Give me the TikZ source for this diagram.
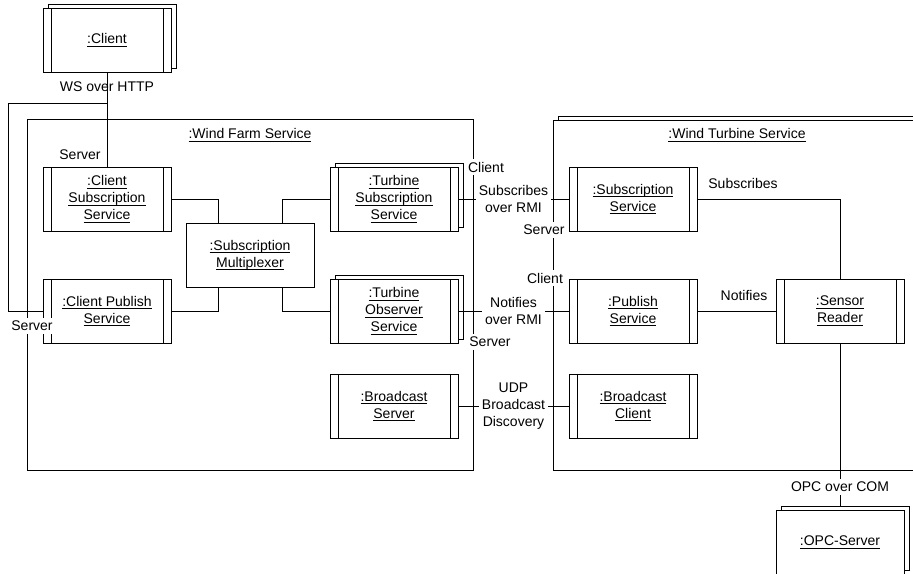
\documentclass[tikz,border=0pt]{standalone}
\usepackage{fontspec}
\setmainfont{Liberation Sans}
\usetikzlibrary{shadows}

% underlined object name with a fixed underline depth
\newcommand\ulx[1]{\setbox0=\hbox{#1}\rlap{\rule[-3pt]{\wd0}{0.8pt}}\box0}

\tikzset{
  txt/.style={font=\fontsize{14}{17}\selectfont},
  lbl/.style={txt, align=center, inner sep=1.5pt},
  wlbl/.style={lbl, fill=white, inner sep=3pt},
  frame/.style={draw, line width=1pt},
  obj/.style={frame, fill=white, txt, align=center, inner sep=0pt,
    minimum width=128pt, minimum height=64pt},
  active/.style={path picture={
    \draw[line width=1pt]
      ([xshift=8pt]path picture bounding box.north west) --
      ([xshift=8pt]path picture bounding box.south west)
      ([xshift=-8pt]path picture bounding box.north east) --
      ([xshift=-8pt]path picture bounding box.south east);}},
  stacked/.style={general shadow={shadow xshift=5pt, shadow yshift=4pt,
    fill=white, draw=black, line width=1pt}},
  conn/.style={line width=1pt},
}

\begin{document}
\begin{tikzpicture}[x=1pt,y=-1pt]
\useasboundingbox (0,0) rectangle (913,573);
\clip (0,0) rectangle (913,573);

% containers
\node[frame, minimum width=446pt, minimum height=351pt] (farm) at (250,294.5) {};
\node[lbl] (farmname) at (250,135) {\ulx{:Wind Farm Service}};
\node[frame, fill=white, stacked, minimum width=402pt, minimum height=350pt] (turbine) at (754,295) {};
\node[lbl] (turbname) at (737,135) {\ulx{:Wind Turbine Service}};

% objects
\node[obj, active, stacked] (client) at (107,40) {\ulx{:Client}};
\node[obj, active] (csub) at (107,199) {\ulx{:Client}\\\ulx{Subscription}\\\ulx{Service}};
\node[obj, active] (cpub) at (107,311) {\ulx{:Client Publish}\\\ulx{Service}};
\node[obj] (mux) at (250,255) {\ulx{:Subscription}\\\ulx{Multiplexer}};
\node[obj, active, stacked] (tsub) at (394,199) {\ulx{:Turbine}\\\ulx{Subscription}\\\ulx{Service}};
\node[obj, active, stacked] (tobs) at (394,311) {\ulx{:Turbine}\\\ulx{Observer}\\\ulx{Service}};
\node[obj, active] (bserv) at (394,406) {\ulx{:Broadcast}\\\ulx{Server}};
\node[obj, active] (ssub) at (633,199) {\ulx{:Subscription}\\\ulx{Service}};
\node[obj, active] (spub) at (633,311) {\ulx{:Publish}\\\ulx{Service}};
\node[obj, active] (bcli) at (633,406) {\ulx{:Broadcast}\\\ulx{Client}};
\node[obj, active] (sensor) at (840,311) {\ulx{:Sensor}\\\ulx{Reader}};
\node[obj, stacked] (opc) at (840,542) {\ulx{:OPC-Server}};

% connectors
\draw[conn] (client.south) -- (csub.north);
\coordinate (tap) at (107,103);
\coordinate (lcorner) at (8,103);
\draw[conn] (tap) -- (lcorner) |- (cpub.west);
\node[lbl] (ws) at (107,87) {WS over HTTP};

\draw[conn] (csub.east) -| ([xshift=-32pt]mux.north);
\draw[conn] ([xshift=32pt]mux.north) |- (tsub.west);
\draw[conn] ([xshift=-32pt]mux.south) |- (cpub.east);
\draw[conn] ([xshift=32pt]mux.south) |- (tobs.west);

\draw[conn] (tsub.east) -- (ssub.west) node[wlbl, midway] (rmis) {Subscribes\\over RMI};
\draw[conn] (tobs.east) -- (spub.west) node[wlbl, midway] (rmin) {Notifies\\over RMI};
\draw[conn] (bserv.east) -- (bcli.west) node[wlbl, midway] (udp) {UDP\\Broadcast\\Discovery};

\draw[conn] (ssub.east) -| (sensor.north);
\node[lbl] (subs) at (743,183) {Subscribes};
\draw[conn] (spub.east) -- (sensor.west);
\node[lbl] (noti) at (744,295) {Notifies};
\draw[conn] (sensor.south) -- ([yshift=4pt]opc.north);
\node[wlbl] (opccom) at (840,487) {OPC over COM};

% role labels
\node[lbl] (srvA) at (80,155) {Server};
\node[wlbl] (srvB) at (32,326) {Server};
\node[wlbl] (cliC) at (486,167) {Client};
\node[wlbl] (srvD) at (490,342) {Server};
\node[wlbl] (srvE) at (544,230) {Server};
\node[wlbl] (cliF) at (545,278) {Client};
\end{tikzpicture}
\end{document}
